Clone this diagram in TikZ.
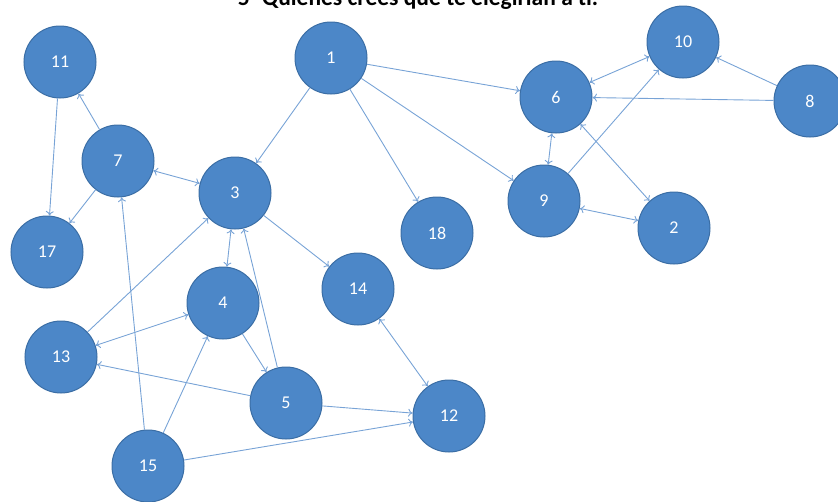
\documentclass[tikz,border=0pt]{standalone}
\usepackage{fontspec}
\setmainfont{Carlito}
\usetikzlibrary{arrows.meta}
\definecolor{nodefill}{HTML}{4C87C8}
\definecolor{nodeline}{HTML}{3B6EA5}
\definecolor{edgecol}{HTML}{78A3D6}
\begin{document}
\begin{tikzpicture}[x=1pt,y=-1pt,
  vert/.style={circle,fill=nodefill,draw=nodeline,line width=1pt,minimum size=72pt,inner sep=0pt,text=white,font=\fontsize{18}{20}\selectfont},
  edge/.style={draw=edgecol,line width=0.9pt,-{To[length=4.5pt,width=8pt]}},
  both/.style={draw=edgecol,line width=0.9pt,{To[length=4.5pt,width=8pt]}-{To[length=4.5pt,width=8pt]}}]
\useasboundingbox (0,0) rectangle (838,501);
\node[anchor=base,font=\bfseries\fontsize{23.5}{26}\selectfont] (title) at (418,5) {5- Quiénes crees que te elegirían a ti.};
\node[vert] (n11) at (60,62) {11};
\node[vert] (n7) at (118,161) {7};
\node[vert] (n17) at (47,252) {17};
\node[vert] (n3) at (235,193) {3};
\node[vert] (n1) at (331,58) {1};
\node[vert] (n18) at (437,233) {18};
\node[vert] (n14) at (358,289) {14};
\node[vert] (n6) at (556,97) {6};
\node[vert] (n9) at (544,201) {9};
\node[vert] (n10) at (683,42) {10};
\node[vert] (n8) at (810,101) {8};
\node[vert] (n2) at (674,228) {2};
\node[vert] (n4) at (223,303) {4};
\node[vert] (n13) at (61,357) {13};
\node[vert] (n5) at (286,403) {5};
\node[vert] (n12) at (449,416) {12};
\node[vert] (n15) at (148,466) {15};
\draw[edge] (n11) -- (n17);
\draw[edge] (n7) -- (n11);
\draw[edge] (n7) -- (n17);
\draw[both] (n7) -- (n3);
\draw[edge] (n1) -- (n3);
\draw[edge] (n1) -- (n6);
\draw[edge] (n1) -- (n9);
\draw[edge] (n1) -- (n18);
\draw[edge] (n3) -- (n14);
\draw[both] (n3) -- (n4);
\draw[edge] (n13) -- (n3);
\draw[edge] (n15) -- (n7);
\draw[edge] (n5) -- (n3);
\draw[edge] (n4) -- (n5);
\draw[both] (n13) -- (n4);
\draw[edge] (n5) -- (n13);
\draw[edge] (n15) -- (n4);
\draw[edge] (n5) -- (n12);
\draw[edge] (n15) -- (n12);
\draw[both] (n14) -- (n12);
\draw[both] (n6) -- (n10);
\draw[edge] (n8) -- (n10);
\draw[edge] (n8) -- (n6);
\draw[both] (n6) -- (n9);
\draw[edge] (n9) -- (n10);
\draw[both] (n6) -- (n2);
\draw[both] (n9) -- (n2);
\end{tikzpicture}
\end{document}
